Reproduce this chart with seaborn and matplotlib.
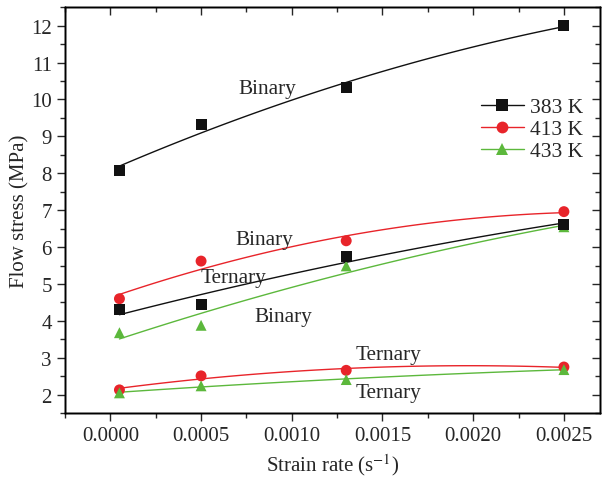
import numpy as np
import pandas as pd
import matplotlib.pyplot as plt
import seaborn as sns

strain_rate = [0.00005, 0.0005, 0.0013, 0.0025]
binary_383 = [8.08, 9.31, 10.33, 12.0]
binary_413 = [4.60, 5.62, 6.17, 6.96]
binary_433 = [3.68, 3.88, 5.49, 6.55]
ternary_383 = [4.31, 4.44, 5.75, 6.62]
ternary_413 = [2.13, 2.51, 2.66, 2.75]
ternary_433 = [2.05, 2.24, 2.41, 2.68]

temps = ['383 K', '413 K', '433 K']
colors = {'383 K': '#111111', '413 K': '#e8242a', '433 K': '#5cb83c'}
markers = {'383 K': 's', '413 K': 'o', '433 K': '^'}

series = {('Binary', '383 K'): binary_383, ('Binary', '413 K'): binary_413,
          ('Binary', '433 K'): binary_433, ('Ternary', '383 K'): ternary_383,
          ('Ternary', '413 K'): ternary_413, ('Ternary', '433 K'): ternary_433}
rows = []
for (alloy, t), vals in series.items():
    for x, y in zip(strain_rate, vals):
        rows.append({'alloy': alloy, 'T': t, 'rate': x, 'stress': y})
df = pd.DataFrame(rows)

sns.set_style('ticks')
plt.rcParams['font.family'] = ['Liberation Serif', 'DejaVu Serif']
plt.rcParams['mathtext.fontset'] = 'stix'

fig = plt.figure(figsize=(6.02, 4.81), dpi=100)
ax = fig.add_axes([0.108, 0.139, 0.889, 0.844])

# smooth fitted curves
for (alloy, t), g in df.groupby(['alloy', 'T']):
    sns.regplot(data=g, x='rate', y='stress', order=2, ci=None, scatter=False,
                color=colors[t], line_kws={'lw': 1.0}, ax=ax, truncate=True)

sns.scatterplot(data=df, x='rate', y='stress', hue='T', style='T',
                palette=colors, markers=markers, s=62, edgecolor='none',
                legend=False, ax=ax, zorder=3)

handles = [plt.Line2D([], [], color=colors[t], marker=markers[t], ms=8.5,
                      lw=1.0, markeredgewidth=0) for t in temps]
ax.legend(handles, temps, loc='upper right', bbox_to_anchor=(0.985, 0.80),
          frameon=False, fontsize=15.5, handlelength=2.0, handletextpad=0.3,
          labelspacing=0.1, borderaxespad=0)

labels = [('Binary', 0.000706, 10.31), ('Binary', 0.00069, 6.2),
          ('Ternary', 0.000497, 5.17), ('Binary', 0.000795, 4.11),
          ('Ternary', 0.001352, 3.08), ('Ternary', 0.001352, 2.05)]
for txt, x, y in labels:
    ax.text(x, y, txt, fontsize=15.3, ha='left', va='center')

ax.set_xlim(-0.00025, 0.0027)
ax.set_ylim(1.5, 12.5)
ax.set_xticks([0.0, 0.0005, 0.001, 0.0015, 0.002, 0.0025])
ax.set_xticklabels(['0.0000', '0.0005', '0.0010', '0.0015', '0.0020', '0.0025'])
ax.set_yticks(range(2, 13))
ax.set_xticks(np.arange(-0.00025, 0.0027, 0.0005), minor=True)
ax.set_yticks(np.arange(1.5, 12.6, 1.0), minor=True)
ax.tick_params(which='both', direction='out', labelsize=15, width=1)
ax.tick_params(which='major', length=6)
ax.tick_params(which='minor', length=3.5)

# mirrored inward ticks on top and right
axt = ax.twiny()
axt.set_xlim(ax.get_xlim())
axt.set_xticks(ax.get_xticks())
axt.set_xticks(ax.get_xticks(minor=True), minor=True)
axt.tick_params(which='both', direction='in', labeltop=False, width=1)
axt.tick_params(which='major', length=6)
axt.tick_params(which='minor', length=3.5)
axr = ax.twinx()
axr.set_ylim(ax.get_ylim())
axr.set_yticks(ax.get_yticks())
axr.set_yticks(ax.get_yticks(minor=True), minor=True)
axr.tick_params(which='both', direction='in', labelright=False, width=1)
axr.tick_params(which='major', length=6)
axr.tick_params(which='minor', length=3.5)

for a in (ax, axt, axr):
    for s in a.spines.values():
        s.set_linewidth(1.0)
        s.set_color('black')

ax.set_xlabel('Strain rate (s$^{-1}$)', fontsize=15)
ax.set_ylabel('Flow stress (MPa)', fontsize=15, labelpad=1)

fig.savefig('out.png', dpi=100)
